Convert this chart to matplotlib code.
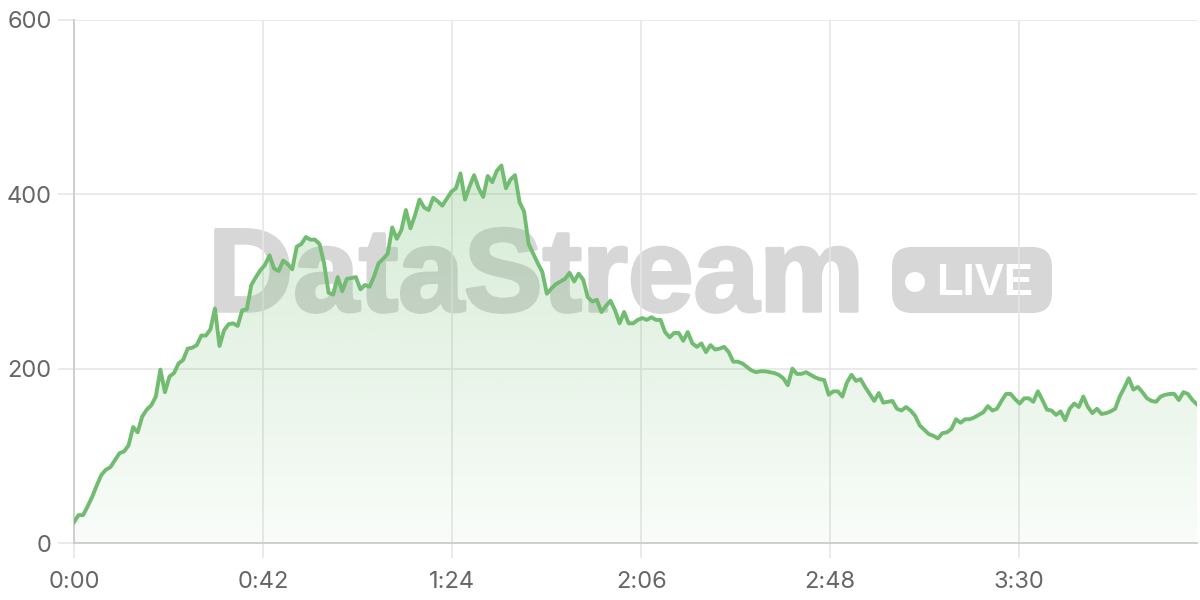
import numpy as np
import matplotlib
matplotlib.use("Agg")
import matplotlib.pyplot as plt
import matplotlib.patheffects as pe
from matplotlib.patches import FancyBboxPatch, Circle
from matplotlib.transforms import IdentityTransform
from matplotlib.ticker import FixedLocator, FuncFormatter

# ---- data (one sample per ~1 s) ----
seg1 = [24, 32, 32, 42, 53, 66, 78, 84, 87, 95, 103, 105, 112, 133, 127, 145, 153, 158, 168, 199,
        173, 191, 195, 206, 210, 223, 224, 227, 238, 238, 245, 269, 226, 244, 251, 252, 249, 267, 268, 296,
        305, 313]
seg2 = [319, 330, 315, 312, 324, 320, 314, 340, 343, 351, 348, 348, 343, 321, 287, 285, 305, 289, 303, 304,
        305, 291, 296, 294, 306, 321, 326, 332, 362, 349, 359, 382, 361, 376, 394, 385, 382, 396, 392, 387,
        395, 403]
seg3 = [407, 424, 394, 409, 422, 407, 397, 421, 414, 427, 433, 407, 417, 422, 391, 380, 343, 332, 321, 311,
        286, 292, 297, 300, 303, 310, 300, 309, 302, 282, 277, 279, 265, 272, 278, 267, 252, 265, 252, 252,
        256]
seg4 = [258, 256, 259, 256, 256, 242, 236, 241, 241, 232, 242, 229, 225, 229, 219, 227, 222, 223, 225, 219,
        208, 208, 206, 202, 198, 196, 197, 197, 196, 195, 193, 189, 181, 200, 194, 194, 196, 193, 190, 188]
seg5 = [187, 170, 174, 174, 168, 184, 193, 186, 188, 179, 171, 163, 172, 161, 162, 163, 154, 152, 156, 152,
        146, 135, 130, 125, 123, 120, 126, 127, 131, 142, 138, 142, 142, 144, 147, 150, 157, 152, 154, 163,
        171, 171, 165, 160, 166]
seg6 = [166, 162, 174, 164, 153, 152, 147, 151, 141, 154, 160, 156, 168, 156, 149, 154, 148, 149, 151, 154,
        168, 178, 189, 176, 179, 173, 166, 163, 162, 168, 170, 171, 171, 164, 173, 171, 164, 159]
values = np.array(seg1 + seg2 + seg3 + seg4 + seg5 + seg6, dtype=float)

t_end = 249.5                      # seconds covered by the stream
times = np.linspace(0, t_end, len(values))
x_ticks = [0, 42, 84, 126, 168, 210]
y_ticks = [0, 200, 400, 600]

def fmt_time(s, pos=None):
    s = int(round(s))
    return f"{s // 60}:{s % 60:02d}"

# ---- style ----
LINE = "#72bc72"
GRID = "#e6e6e6"
AXIS = "#cccccc"
TEXT = "#666666"
WM = "#d7d7d7"
TICK_FONT = ["Inter", "DejaVu Sans"]

fig = plt.figure(figsize=(12, 6), dpi=100)
ax = fig.add_axes([74 / 1200, 57 / 600, (1197 - 74) / 1200, (543 - 20) / 600])
ax.set_xlim(0, t_end)
ax.set_ylim(0, 600)

ax.xaxis.set_major_locator(FixedLocator(x_ticks))
ax.yaxis.set_major_locator(FixedLocator(y_ticks))
ax.xaxis.set_major_formatter(FuncFormatter(fmt_time))
ax.grid(True, color=GRID, linewidth=1.2, zorder=0)
ax.set_axisbelow(True)

for s in ["top", "right"]:
    ax.spines[s].set_visible(False)
for s in ["left", "bottom"]:
    ax.spines[s].set_color(AXIS)
    ax.spines[s].set_linewidth(1.3)

ax.tick_params(axis="y", length=11.5, width=1.2, color=GRID, labelcolor=TEXT, labelsize=17, pad=4.5)
ax.tick_params(axis="x", length=11, width=1.2, color=GRID, labelcolor=TEXT, labelsize=17, pad=9)
for lab in ax.get_xticklabels() + ax.get_yticklabels():
    lab.set_fontfamily(TICK_FONT)

# gradient fill under the line
poly = ax.fill_between(times, values, 0, color="none", linewidth=0, zorder=1)
grad = np.linspace(0.04, 0.30, 256).reshape(-1, 1)
rgba = np.zeros((256, 1, 4))
rgba[..., 0] = 0x72 / 255
rgba[..., 1] = 0xbc / 255
rgba[..., 2] = 0x72 / 255
rgba[..., 3] = grad
im = ax.imshow(rgba, extent=[0, t_end, 0, values.max()], origin="lower",
               aspect="auto", zorder=1)
im.set_clip_path(poly.get_paths()[0], transform=ax.transData)

# watermark (pixel coordinates, origin bottom-left), drawn beneath the axes content
px = IdentityTransform()
fig.text(208, 600 - 311, "DataStream", fontsize=85, fontweight="bold", transform=px,
         family="Liberation Sans", color=WM, ha="left", va="baseline", zorder=2,
         path_effects=[pe.withStroke(linewidth=2.5, foreground=WM)])
badge = FancyBboxPatch((892, 600 - 313), 160, 66,
                       boxstyle="round,pad=0,rounding_size=20", transform=px,
                       facecolor=WM, edgecolor="none", zorder=2)
fig.add_artist(badge)
fig.add_artist(Circle((915, 600 - 282), 10, transform=px,
                      facecolor="white", edgecolor="none", zorder=3))
fig.text(936, 600 - 295, "LIVE", fontsize=31.5, fontweight="bold", transform=px,
         family="Liberation Sans", color="white", ha="left", va="baseline", zorder=3)

ax.patch.set_alpha(0)
ax.set_zorder(4)

# line
ax.plot(times, values, color=LINE, linewidth=2.8, solid_joinstyle="round", zorder=3)

fig.savefig("out.png", dpi=100)
